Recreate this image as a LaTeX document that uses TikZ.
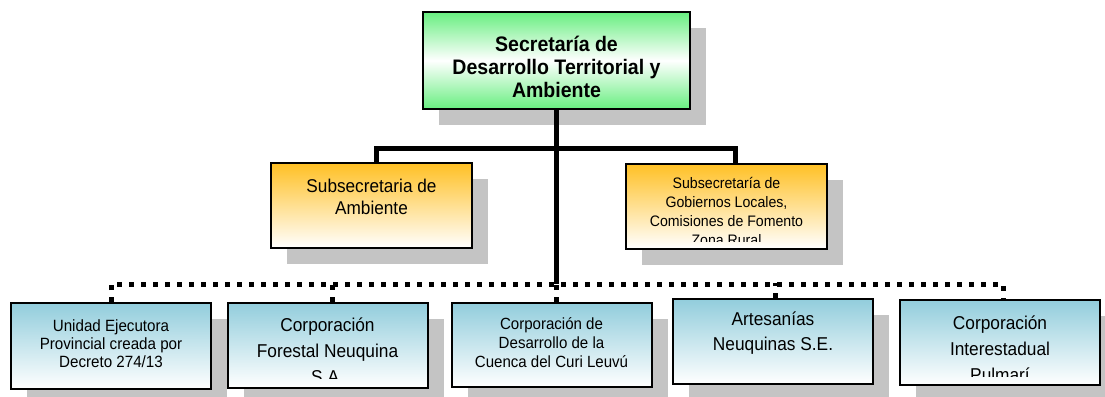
\documentclass[tikz,border=0pt]{standalone}
\usepackage{fontspec}
\setmainfont[FakeStretch=0.93]{Liberation Sans}
\usetikzlibrary{shadows, calc}

\definecolor{topgreen}{RGB}{104,238,128}
\definecolor{suborange}{RGB}{255,192,36}
\definecolor{entblue}{RGB}{146,205,220}
\definecolor{shadowgray}{RGB}{196,196,196}

\begin{document}
\begin{tikzpicture}[x=1pt, y=-1pt]
            \tikzstyle{unit} = [draw, line width=2pt, inner sep=0pt, drop shadow={shadow xshift=16pt, shadow yshift=-16pt, fill=shadowgray, opacity=1}]
            \tikzstyle{secbox} = [unit, top color=topgreen, bottom color=topgreen, middle color=white, minimum width=267pt, minimum height=97pt]
            \tikzstyle{subbox} = [unit, top color=suborange, bottom color=white, minimum width=201pt, minimum height=85pt]
            \tikzstyle{entbox} = [unit, top color=entblue, bottom color=white, minimum width=200pt, minimum height=85pt]
            \tikzstyle{boxtext} = [anchor=north, inner sep=0pt, align=center, execute at begin node=\rule{0pt}{0.8em}]
            \tikzstyle{solidlink} = [line width=5pt]
            \tikzstyle{dotlink} = [line width=5pt, dash pattern=on 5pt off 7pt]

            \clip (0,0) rectangle (1105,396);

            \node[secbox] (sec) at (556.5,60.5) {};
            \node[subbox] (subamb) at (371.5,205.5) {};
            \node[subbox] (subgob) at (726.5,206) {};
            \node[entbox, minimum height=86pt] (uep) at (111,346) {};
            \node[entbox] (forestal) at (327.5,345) {};
            \node[entbox, minimum height=84pt] (curi) at (551.5,345) {};
            \node[entbox] (artes) at (773,341.5) {};
            \node[entbox] (pulmari) at (1000,342.5) {};

            \node[boxtext, font=\bfseries\fontsize{21}{22.8}\selectfont] (sectext) at ([yshift=-25.2pt]sec.north) {Secretaría de\\Desarrollo Territorial y\\Ambiente};
            \node[boxtext, font=\fontsize{18.5}{21.7}\selectfont] (subambtext) at ([yshift=-17.2pt]subamb.north) {Subsecretaria de\\Ambiente};
            \begin{scope}
                \clip ([shift={(2pt,-2pt)}]subgob.north west) rectangle ([shift={(-2pt,8pt)}]subgob.south east);
                \node[boxtext, font=\fontsize{15.2}{19.2}\selectfont] (subgobtext) at ([yshift=-14.5pt]subgob.north) {Subsecretaría de\\Gobiernos Locales,\\Comisiones de Fomento\\Zona Rural};
            \end{scope}
            \node[boxtext, font=\fontsize{16.3}{18.3}\selectfont] (ueptext) at ([yshift=-17.3pt]uep.north) {Unidad Ejecutora\\Provincial creada por\\Decreto 274/13};
            \begin{scope}
                \clip ([shift={(2pt,-2pt)}]forestal.north west) rectangle ([shift={(-2pt,10pt)}]forestal.south east);
                \node[boxtext, font=\fontsize{18.6}{26}\selectfont] (forestaltext) at ([yshift=-16.2pt]forestal.north) {Corporación\\Forestal Neuquina\\S.A.};
            \end{scope}
            \node[boxtext, font=\fontsize{16.2}{18.8}\selectfont] (curitext) at ([yshift=-15.8pt]curi.north) {Corporación de\\Desarrollo de la\\Cuenca del Curi Leuvú};
            \node[boxtext, font=\fontsize{18.6}{25}\selectfont] (artestext) at ([yshift=-13.5pt]artes.north) {Artesanías\\Neuquinas S.E.};
            \begin{scope}
                \clip ([shift={(2pt,-2pt)}]pulmari.north west) rectangle ([shift={(-2pt,10pt)}]pulmari.south east);
                \node[boxtext, font=\fontsize{18.6}{26}\selectfont] (pulmaritext) at ([yshift=-16.2pt]pulmari.north) {Corporación\\Interestadual\\Pulmarí};
            \end{scope}

            \coordinate (hub) at (sec.south |- 0,284);
            \coordinate (bar) at (sec.south |- 0,148);

            \draw[solidlink] (sec.south) -- (hub);
            \draw[solidlink] ([xshift=4.5pt]subamb.north) |- (bar) -| ([xshift=8.5pt]subgob.north);

            \draw[dotlink] (uep.north) |- (hub) -| ([xshift=3pt]pulmari.north);
            \draw[dotlink] ([xshift=4.5pt]forestal.north) -- ++(0,-18);
            \draw[dotlink] (curi.north -| hub) -- (hub);
            \draw[dotlink] ([xshift=2pt]artes.north) -- ++(0,-15);
        \end{tikzpicture}
\end{document}
